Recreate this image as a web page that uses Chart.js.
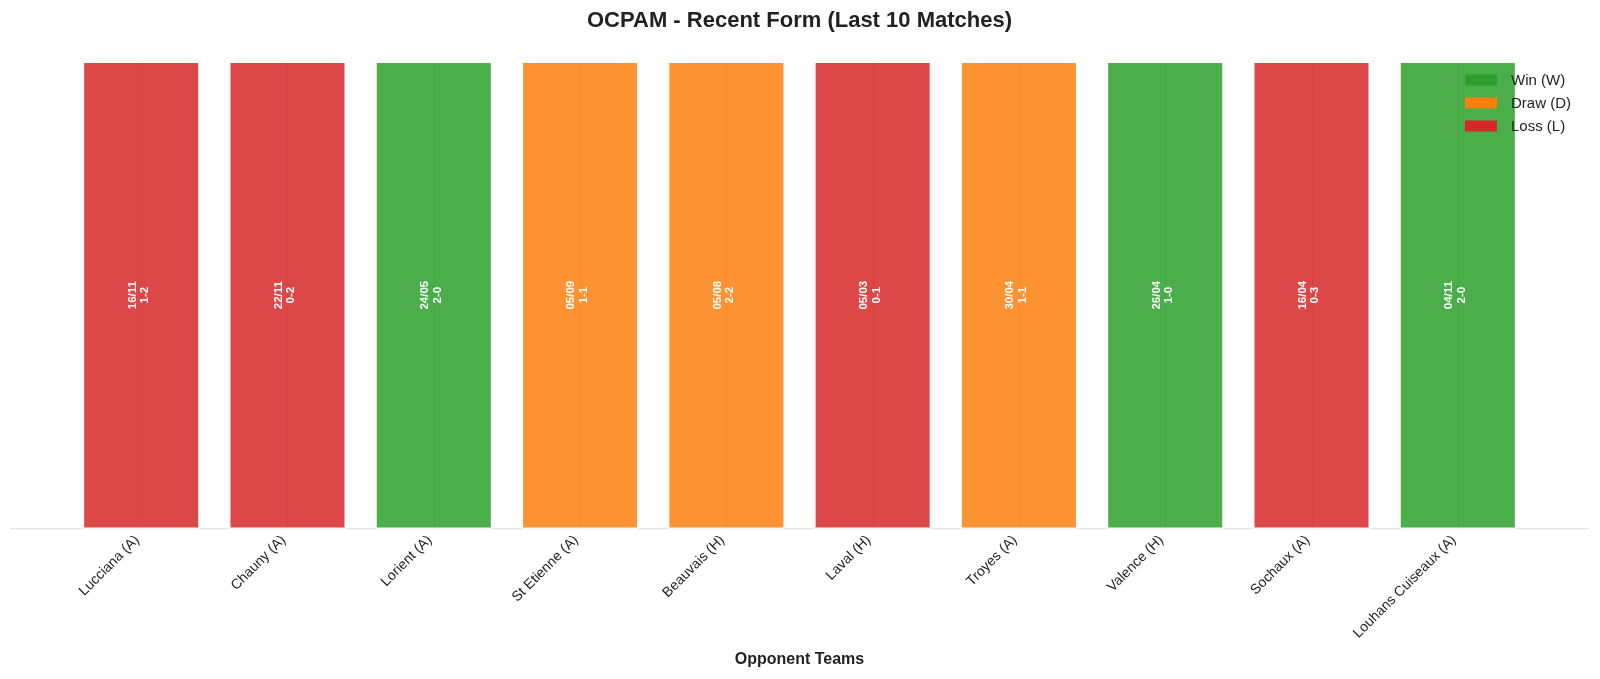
<!DOCTYPE html>
<html>
<head>
<meta charset="utf-8">
<script src="https://cdn.jsdelivr.net/npm/chart.js@4.4.1/dist/chart.umd.min.js"></script>
<style>
  html, body { margin: 0; padding: 0; background: #ffffff; }
  #wrap { width: 1600px; height: 679px; position: relative; }
</style>
</head>
<body>
<div id="wrap"><canvas id="c" width="1600" height="679"></canvas></div>
<script>
// ---- Data ----
const opponents = ['Lucciana (A)', 'Chauny (A)', 'Lorient (A)', 'St Etienne (A)', 'Beauvais (H)',
                   'Laval (H)', 'Troyes (A)', 'Valence (H)', 'Sochaux (A)', 'Louhans Cuiseaux (A)'];
const matchDates = ['16/11', '22/11', '24/05', '05/09', '05/08', '05/03', '30/04', '26/04', '16/04', '04/11'];
const scores = ['1-2', '0-2', '2-0', '1-1', '2-2', '0-1', '1-1', '1-0', '0-3', '2-0'];
const results = ['L', 'L', 'W', 'D', 'D', 'L', 'D', 'W', 'L', 'W'];
const barValues = [1, 1, 1, 1, 1, 1, 1, 1, 1, 1];
const legendLabels = ['Win (W)', 'Draw (D)', 'Loss (L)'];
const legendKeys = ['W', 'D', 'L'];

// ---- Styles ----
const solidColors = { W: '#2ca02c', D: '#ff7f0e', L: '#d62728' };
const barColors = { W: 'rgba(44,160,44,0.85)', D: 'rgba(255,127,14,0.85)', L: 'rgba(214,39,40,0.85)' };
const FONT = "'Liberation Sans', Arial, Helvetica, sans-serif";

const points = barValues.map((v, i) => ({ x: i, y: v }));

const barTextPlugin = {
  id: 'barText',
  afterDatasetsDraw(chart) {
    const ctx = chart.ctx;
    const meta = chart.getDatasetMeta(0);
    meta.data.forEach((el, i) => {
      // faint centre line (grid seen through translucent bar)
      ctx.save();
      ctx.strokeStyle = 'rgba(120,0,0,0.06)';
      if (results[i] === 'W') ctx.strokeStyle = 'rgba(0,60,0,0.07)';
      if (results[i] === 'D') ctx.strokeStyle = 'rgba(120,50,0,0.06)';
      ctx.lineWidth = 1.2;
      ctx.beginPath();
      ctx.moveTo(Math.round(el.x) + 0.5, el.y);
      ctx.lineTo(Math.round(el.x) + 0.5, el.base);
      ctx.stroke();
      ctx.restore();

      ctx.save();
      ctx.translate(el.x - 2.5, (el.y + el.base) / 2);
      ctx.rotate(-Math.PI / 2);
      ctx.fillStyle = '#ffffff';
      ctx.font = 'bold 11.5px ' + FONT;
      ctx.textAlign = 'center';
      ctx.textBaseline = 'middle';
      ctx.fillText(matchDates[i], 0, -6.3);
      ctx.fillText(scores[i], 0, 6.3);
      ctx.restore();
    });
  }
};

const legendPlugin = {
  id: 'customLegend',
  afterDraw(chart) {
    const ctx = chart.ctx;
    const area = chart.chartArea;
    const boxX = area.right - 123;
    let y = area.top + 42;
    ctx.save();
    legendLabels.forEach((lab, k) => {
      ctx.fillStyle = solidColors[legendKeys[k]];
      ctx.fillRect(boxX, y - 5.5, 32, 11);
      ctx.fillStyle = '#222222';
      ctx.font = '15px ' + FONT;
      ctx.textAlign = 'left';
      ctx.textBaseline = 'middle';
      ctx.fillText(lab, boxX + 46, y + 0.5);
      y += 23;
    });
    ctx.restore();
  }
};

new Chart(document.getElementById('c'), {
  type: 'bar',
  data: {
    datasets: [{
      data: points,
      backgroundColor: results.map(r => barColors[r]),
      borderColor: 'rgba(255,255,255,0.7)',
      borderWidth: 1.5,
      borderSkipped: false,
      barPercentage: 0.8,
      categoryPercentage: 1.0
    }]
  },
  options: {
    responsive: false,
    animation: false,
    devicePixelRatio: 1,
    layout: { padding: { left: 11, right: 12, top: 0, bottom: 6 } },
    plugins: {
      legend: { display: false },
      tooltip: { enabled: false },
      title: {
        display: true,
        text: 'OCPAM - Recent Form (Last 10 Matches)',
        color: '#222222',
        font: { family: FONT, size: 22, weight: 'bold' },
        padding: { top: 8, bottom: 3.6 }
      }
    },
    scales: {
      x: {
        type: 'linear',
        min: -0.89,
        max: 9.89,
        offset: false,
        grid: { display: false, drawTicks: false },
        border: { display: true, color: '#e3e3e3', width: 1.3 },
        ticks: {
          stepSize: 1,
          includeBounds: false,
          autoSkip: false,
          maxRotation: 45,
          minRotation: 45,
          padding: 3,
          labelOffset: -4,
          color: '#222222',
          font: { family: FONT, size: 14 },
          callback: (v) => (Number.isInteger(v) && v >= 0 && v < opponents.length) ? opponents[v] : ''
        },
        title: {
          display: true,
          text: 'Opponent Teams',
          color: '#222222',
          font: { family: FONT, size: 16, weight: 'bold' },
          padding: { top: 0, bottom: 4 }
        },
        afterFit(scale) { scale.height = 144; }
      },
      y: {
        display: false,
        min: 0,
        max: 1.05
      }
    }
  },
  plugins: [barTextPlugin, legendPlugin]
});
</script>
</body>
</html>
